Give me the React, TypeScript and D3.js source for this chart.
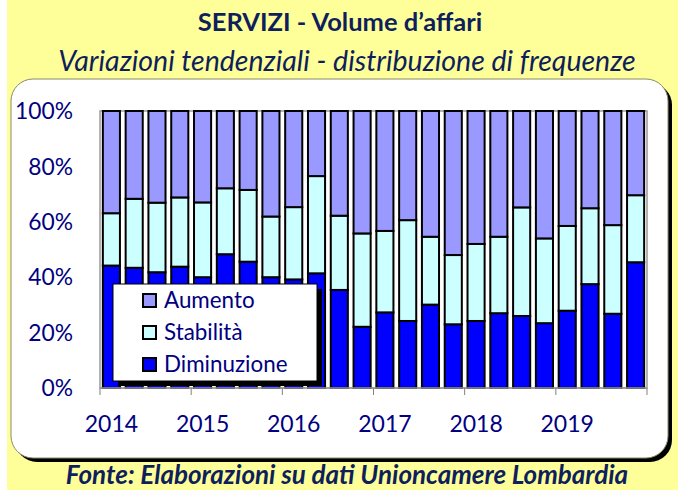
import React from 'react';
import * as d3 from 'd3';

// quarterly data 2014-2019 (percent of answers)
const quarters = [
  '2014-1', '2014-2', '2014-3', '2014-4',
  '2015-1', '2015-2', '2015-3', '2015-4',
  '2016-1', '2016-2', '2016-3', '2016-4',
  '2017-1', '2017-2', '2017-3', '2017-4',
  '2018-1', '2018-2', '2018-3', '2018-4',
  '2019-1', '2019-2', '2019-3', '2019-4',
];
const diminuzione = [44.2, 43.4, 41.8, 43.8, 40.0, 48.3, 45.6, 40.0, 39.2, 41.4, 35.4, 22.1, 27.3, 24.2, 30.1, 23.0, 24.2, 27.0, 26.0, 23.4, 27.9, 37.5, 26.8, 45.4];
const stabilita = [18.9, 24.9, 25.1, 25.0, 27.0, 23.8, 25.9, 21.9, 26.1, 35.1, 26.8, 33.7, 29.4, 36.4, 24.5, 25.0, 27.8, 27.6, 39.2, 30.6, 30.6, 27.4, 32.0, 24.2];
const aumento = [36.9, 31.7, 33.1, 31.2, 33.0, 27.9, 28.5, 38.1, 34.7, 23.5, 37.8, 44.2, 43.3, 39.4, 45.4, 52.0, 48.0, 45.4, 34.8, 46.0, 41.5, 35.1, 41.2, 30.4];
const years = ['2014', '2015', '2016', '2017', '2018', '2019'];
const yTicks = [0, 20, 40, 60, 80, 100];

const seriesKeys = ['Diminuzione', 'Stabilità', 'Aumento'];
const seriesColors: Record<string, string> = {
  Diminuzione: '#0000FF',
  'Stabilità': '#CCFFFF',
  Aumento: '#9999FF',
};

const navy = '#000080';
const darkNavy = '#0E1F5B';
const font = 'Lato, "Open Sans", sans-serif';

export default function App() {
  const rows = quarters.map((q, i) => ({
    q,
    Diminuzione: diminuzione[i],
    'Stabilità': stabilita[i],
    Aumento: aumento[i],
  }));
  const stacked = d3.stack<any>().keys(seriesKeys)(rows);

  const plot = { left: 100, right: 647, top: 111, bottom: 388 };
  const x = d3.scaleBand<string>()
    .domain(quarters)
    .range([plot.left, plot.right])
    .paddingInner(0.25)
    .paddingOuter(0.125);
  const y = d3.scaleLinear().domain([0, 100]).range([plot.bottom, plot.top]);
  const step = x.step();
  const gap = step * x.paddingInner() / 2;

  const tickXs = d3.range(0, quarters.length + 1, 4).map(i =>
    i === quarters.length ? plot.right : (x(quarters[i]) as number) - gap
  );

  const legendItems = ['Aumento', 'Stabilità', 'Diminuzione'];

  return (
    <svg width={678} height={490} style={{ position: 'absolute', left: 0, top: 0, display: 'block' }}>
      <rect x={0} y={0} width={678} height={490} fill="#ffffff" />
      <rect x={7} y={0} width={671} height={490} fill="#FFFF99" />

      {/* titles */}
      <text x={340} y={31} textAnchor="middle" fontFamily={font} fontWeight="bold" fontSize={25.5} fill={darkNavy}>
        SERVIZI - Volume d’affari
      </text>
      <text x={347} y={71} textAnchor="middle" fontFamily={font} fontStyle="italic" fontSize={28.5} fill={darkNavy}>
        Variazioni tendenziali - distribuzione di frequenze
      </text>

      {/* panel */}
      <rect x={15} y={83} width={657} height={379} rx={22} fill="#000000" />
      <rect x={11} y={79} width={657} height={379} rx={22} fill="#ffffff" stroke="#8a8a6a" strokeWidth={1} />

      {/* plot area */}
      <rect x={plot.left} y={plot.top} width={plot.right - plot.left} height={plot.bottom - plot.top} fill="#ffffff" stroke="#9a9a9a" strokeWidth={1.5} />

      {stacked.map(s => (
        <g key={s.key}>
          {s.map((d, i) => (
            <rect
              key={i}
              x={x(quarters[i])}
              y={y(d[1])}
              width={x.bandwidth()}
              height={y(d[0]) - y(d[1])}
              fill={seriesColors[s.key]}
              stroke="#000000"
              strokeWidth={2}
            />
          ))}
        </g>
      ))}

      {/* x axis */}
      <line x1={plot.left} x2={plot.right} y1={plot.bottom} y2={plot.bottom} stroke="#9a9a9a" strokeWidth={1.5} />
      {tickXs.map((tx, i) => (
        <line key={i} x1={tx} x2={tx} y1={plot.bottom} y2={plot.bottom + 7} stroke="#808080" strokeWidth={1} />
      ))}
      {years.map((yr, k) => (
        <text key={yr} x={(x(quarters[k * 4]) as number) + x.bandwidth() / 2} y={432}
          textAnchor="middle" fontFamily={font} fontSize={23} fill={navy}>
          {yr}
        </text>
      ))}

      {/* y axis labels */}
      {yTicks.map(t => (
        <text key={t} x={73} y={y(t)} dy="0.36em" textAnchor="end" fontFamily={font} fontSize={22.8} fill={navy}>
          {t}%
        </text>
      ))}

      {/* legend */}
      <rect x={118} y={289} width={204} height={97} fill="#000000" />
      <rect x={113} y={284} width={204} height={97} fill="#ffffff" stroke="#000000" strokeWidth={1} />
      {legendItems.map((k, i) => (
        <g key={k} transform={`translate(143, ${294 + i * 32})`}>
          <rect x={0} y={0} width={13} height={13} fill={seriesColors[k]} stroke="#000000" strokeWidth={2} />
          <text x={21} y={14} fontFamily={font} fontSize={22.4} fill={navy}>{k}</text>
        </g>
      ))}

      {/* source */}
      <text x={347} y={484} textAnchor="middle" fontFamily={font} fontWeight="bold" fontStyle="italic" fontSize={26} fill={darkNavy}>
        Fonte: Elaborazioni su dati Unioncamere Lombardia
      </text>
    </svg>
  );
}
